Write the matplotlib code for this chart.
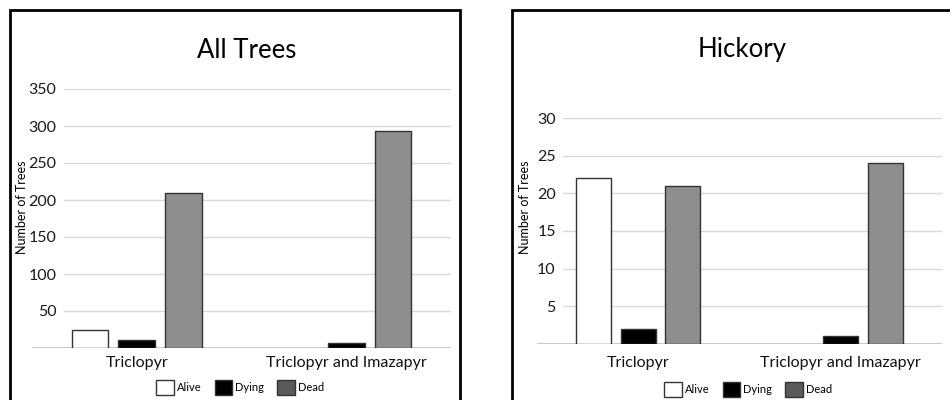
import numpy as np
import matplotlib.pyplot as plt
from matplotlib.patches import Patch, Rectangle

plt.rcParams['font.family'] = ['Lato', 'DejaVu Sans']

# ---------- data ----------
categories = ["Triclopyr", "Triclopyr and Imazapyr"]
series = ["Alive", "Dying", "Dead"]

all_alive = [25, 0]
all_dying = [11, 7]
all_dead = [209, 293]

hick_alive = [22, 0]
hick_dying = [2, 1]
hick_dead = [21, 24]

all_ticks = [50, 100, 150, 200, 250, 300, 350]
hick_ticks = [5, 10, 15, 20, 25, 30]

bar_colors = ["white", "black", "#8e8e8e"]
legend_colors = ["white", "black", "#5a5a5a"]
edge = "#333333"

W, H = 950, 400


def fx(px):
    return px / W


def fy(py):
    return 1 - py / H


def draw_panel(ax, values, ticks, ymax, label_pad, grid_start, cat_pad, width=0.176, step=0.223):
    x = np.arange(len(categories))
    for k, (vals, col) in enumerate(zip(values, bar_colors)):
        v = np.array(vals, dtype=float)
        v = np.where(v > 0, v, np.nan)  # zero bars are not drawn
        ax.bar(x + (k - 1) * step, v, width=width, color=col,
               edgecolor=edge, linewidth=1.0, zorder=3)
    ax.set_xlim(-0.5, 1.5)
    ax.set_ylim(0, ymax)
    for t in ticks:
        ax.axhline(t, xmin=grid_start, xmax=1, color="#d9d9d9", lw=1, zorder=1)
    ax.axhline(0, color="#bfbfbf", lw=1.2, zorder=2)
    ax.set_yticks(ticks)
    ax.set_yticklabels([str(t) for t in ticks], fontsize=11.5, color="#1a1a1a")
    ax.tick_params(axis="y", length=0, pad=label_pad)
    for lab in ax.get_yticklabels():
        lab.set_horizontalalignment("right")
    ax.set_xticks(x)
    ax.set_xticklabels(categories, fontsize=11.5, color="#111111")
    ax.tick_params(axis="x", length=0, pad=cat_pad)
    for s in ax.spines.values():
        s.set_visible(False)


fig = plt.figure(figsize=(9.5, 4), dpi=100)
fig.patch.set_facecolor("white")

# panel borders
fig.add_artist(Rectangle((fx(10), fy(430)), fx(460) - fx(10), fy(10) - fy(430),
                         transform=fig.transFigure, fill=False, lw=2, ec="black",
                         clip_on=False))
fig.add_artist(Rectangle((fx(512), fy(430)), fx(990) - fx(512), fy(10) - fy(430),
                         transform=fig.transFigure, fill=False, lw=2, ec="black",
                         clip_on=False))

ax1 = fig.add_axes([fx(32), fy(348), fx(451) - fx(32), fy(89) - fy(348)])
draw_panel(ax1, [all_alive, all_dying, all_dead], all_ticks, 350,
           label_pad=-17.5, grid_start=32 / 419, cat_pad=6.0)

ax2 = fig.add_axes([fx(537), fy(344), fx(942) - fx(537), fy(118) - fy(344)])
draw_panel(ax2, [hick_alive, hick_dying, hick_dead], hick_ticks, 30,
           label_pad=-13.5, grid_start=26 / 405, cat_pad=9.0, width=0.172, step=0.22)

# titles and axis labels
fig.text(fx(247), fy(50), "All Trees", fontsize=18.5, ha="center", va="center")
fig.text(fx(742), fy(50), "Hickory", fontsize=18.5, ha="center", va="center")
fig.text(fx(22), fy(207), "Number of Trees", fontsize=9, rotation=90,
         ha="center", va="center")
fig.text(fx(525), fy(207), "Number of Trees", fontsize=9, rotation=90,
         ha="center", va="center")

handles = [Patch(facecolor=c, edgecolor=edge, lw=1) for c in legend_colors]
for cx, cy in [(240, 387), (748, 389)]:
    fig.legend(handles, series, loc="center", bbox_to_anchor=(fx(cx), fy(cy)),
               ncol=3, frameon=False, fontsize=8, handlelength=1.6,
               handleheight=1.7, handletextpad=0.25, columnspacing=1.2,
               borderpad=0)

plt.savefig("out.png", dpi=100, facecolor="white")
plt.close()
